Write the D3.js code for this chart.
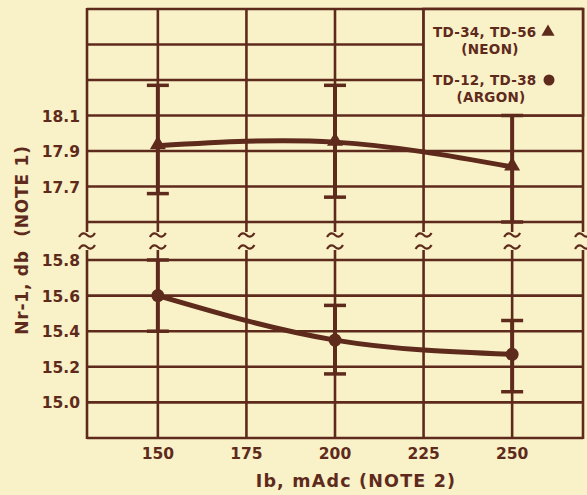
<!DOCTYPE html>
<html><head><meta charset="utf-8">
<script src="https://cdn.jsdelivr.net/npm/d3@7"></script>
<style>
html,body{margin:0;padding:0;background:#f9f1c7;}
svg{display:block;}
text{font-family:"DejaVu Sans",sans-serif;font-weight:bold;fill:#5e2a1c;}
</style></head>
<body>
<script>
// ---- data ----
const currents = [150, 200, 250];           // Ib, mAdc
const neonValues = [17.93, 17.95, 17.81];   // TD-34, TD-56 (NEON)
const neonHigh = [18.27, 18.27, 18.10];
const neonLow = [17.66, 17.64, 17.50];
const argonValues = [15.60, 15.35, 15.27];  // TD-12, TD-38 (ARGON)
const argonHigh = [15.80, 15.545, 15.46];
const argonLow = [15.40, 15.16, 15.06];
const xTicks = [150, 175, 200, 225, 250];
const upperTicks = [17.7, 17.9, 18.1];
const upperGrid = [17.5, 17.7, 17.9, 18.1, 18.3, 18.5, 18.7];
const lowerTicks = [15.0, 15.2, 15.4, 15.6, 15.8];
const lowerGrid = [14.8, 15.0, 15.2, 15.4, 15.6, 15.8];
const legendLabels = [["TD-34, TD-56", "(NEON)"], ["TD-12, TD-38", "(ARGON)"]];

const W = 587, H = 495, ink = "#5e2a1c", bg = "#f9f1c7";
const svg = d3.select("body").append("svg").attr("width", W).attr("height", H);
svg.append("rect").attr("width", W).attr("height", H).attr("fill", bg);

const x = d3.scaleLinear().domain([130, 270]).range([87, 583]);
const yU = d3.scaleLinear().domain([17.5, 18.7]).range([222, 9]);
const yL = d3.scaleLinear().domain([14.8, 15.8]).range([438, 260]);

const g = svg.append("g");
// horizontal grid
g.selectAll(".hu").data(upperGrid).join("line")
  .attr("x1", x(130)).attr("x2", x(270)).attr("y1", d => yU(d)).attr("y2", d => yU(d))
  .attr("stroke", ink).attr("stroke-width", 2.6);
g.selectAll(".hl").data(lowerGrid).join("line")
  .attr("x1", x(130)).attr("x2", x(270)).attr("y1", d => yL(d)).attr("y2", d => yL(d))
  .attr("stroke", ink).attr("stroke-width", 2.6);

// vertical grid with break squiggles
const vx = [130].concat(xTicks, [270]);
vx.forEach(v => {
  const X = x(v);
  g.append("line").attr("x1", X).attr("x2", X).attr("y1", yU(18.7) - 1).attr("y2", 232)
    .attr("stroke", ink).attr("stroke-width", 2.6);
  g.append("line").attr("x1", X).attr("x2", X).attr("y1", 250).attr("y2", yL(14.8) + 1)
    .attr("stroke", ink).attr("stroke-width", 2.6);
  [235, 247].forEach(yy => {
    g.append("path")
      .attr("d", `M${X - 8},${yy + 2} C${X - 5},${yy - 3} ${X - 2},${yy - 2} ${X},${yy} S${X + 5},${yy + 3} ${X + 8},${yy - 2}`)
      .attr("fill", "none").attr("stroke", ink).attr("stroke-width", 2.2);
  });
});

// legend box
const lx0 = x(225), lx1 = x(270), ly0 = yU(18.7), ly1 = yU(18.1);
g.append("rect").attr("x", lx0).attr("y", ly0).attr("width", lx1 - lx0).attr("height", ly1 - ly0)
  .attr("fill", bg).attr("stroke", ink).attr("stroke-width", 2.6);
svg.append("text").attr("x", 433).attr("y", 37).attr("font-size", 13.5).attr("letter-spacing", 0.3).text(legendLabels[0][0]);
svg.append("text").attr("x", 490).attr("y", 54).attr("text-anchor", "middle").attr("font-size", 13.5).attr("letter-spacing", 0.3).text(legendLabels[0][1]);
svg.append("text").attr("x", 433).attr("y", 85).attr("font-size", 13.5).attr("letter-spacing", 0.3).text(legendLabels[1][0]);
svg.append("text").attr("x", 491).attr("y", 102).attr("text-anchor", "middle").attr("font-size", 13.5).attr("letter-spacing", 0.3).text(legendLabels[1][1]);
svg.append("path").attr("d", d3.symbol(d3.symbolTriangle, 75)()).attr("transform", `translate(548,32)`).attr("fill", ink);
svg.append("circle").attr("cx", 549).attr("cy", 80).attr("r", 5.5).attr("fill", ink);

// error bars
function errorBars(highs, lows, y) {
  currents.forEach((c, i) => {
    const X = x(c);
    g.append("line").attr("x1", X).attr("x2", X).attr("y1", y(highs[i])).attr("y2", y(lows[i]))
      .attr("stroke", ink).attr("stroke-width", 4);
    [highs[i], lows[i]].forEach(v => g.append("line").attr("x1", X - 11).attr("x2", X + 11)
      .attr("y1", y(v)).attr("y2", y(v)).attr("stroke", ink).attr("stroke-width", 3.5));
  });
}
errorBars(neonHigh, neonLow, yU);
errorBars(argonHigh, argonLow, yL);

// curves
const lineU = d3.line().x((d, i) => x(currents[i])).y(d => yU(d)).curve(d3.curveNatural);
const lineL = d3.line().x((d, i) => x(currents[i])).y(d => yL(d)).curve(d3.curveNatural);
g.append("path").attr("d", lineU(neonValues)).attr("fill", "none").attr("stroke", ink).attr("stroke-width", 5);
g.append("path").attr("d", lineL(argonValues)).attr("fill", "none").attr("stroke", ink).attr("stroke-width", 5);

// markers
g.selectAll(".tri").data(neonValues).join("path")
  .attr("d", d3.symbol(d3.symbolTriangle, 110)())
  .attr("transform", (d, i) => `translate(${x(currents[i])},${yU(d) - 1})`).attr("fill", ink);
g.selectAll(".dot").data(argonValues).join("circle")
  .attr("cx", (d, i) => x(currents[i])).attr("cy", d => yL(d)).attr("r", 6.5).attr("fill", ink);

// axes labels
svg.selectAll(".xt").data(xTicks).join("text")
  .attr("x", d => x(d)).attr("y", 459).attr("text-anchor", "middle").attr("font-size", 15.5).text(d => d);
svg.selectAll(".yu").data(upperTicks).join("text")
  .attr("x", 80).attr("y", d => yU(d) + 6).attr("text-anchor", "end").attr("font-size", 15.5).text(d => d3.format(".1f")(d));
svg.selectAll(".yl").data(lowerTicks).join("text")
  .attr("x", 80).attr("y", d => yL(d) + 6).attr("text-anchor", "end").attr("font-size", 15.5).text(d => d3.format(".1f")(d));

svg.append("text").attr("x", 356).attr("y", 487).attr("text-anchor", "middle").attr("font-size", 17.5).attr("letter-spacing", 1.2)
  .text("Ib, mAdc (NOTE 2)");
svg.append("text").attr("transform", "translate(28,240) rotate(-90)").attr("text-anchor", "middle").attr("font-size", 17).attr("letter-spacing", 0.8)
  .attr("xml:space", "preserve").text("Nr-1, db  (NOTE 1)");
</script>
</body></html>
